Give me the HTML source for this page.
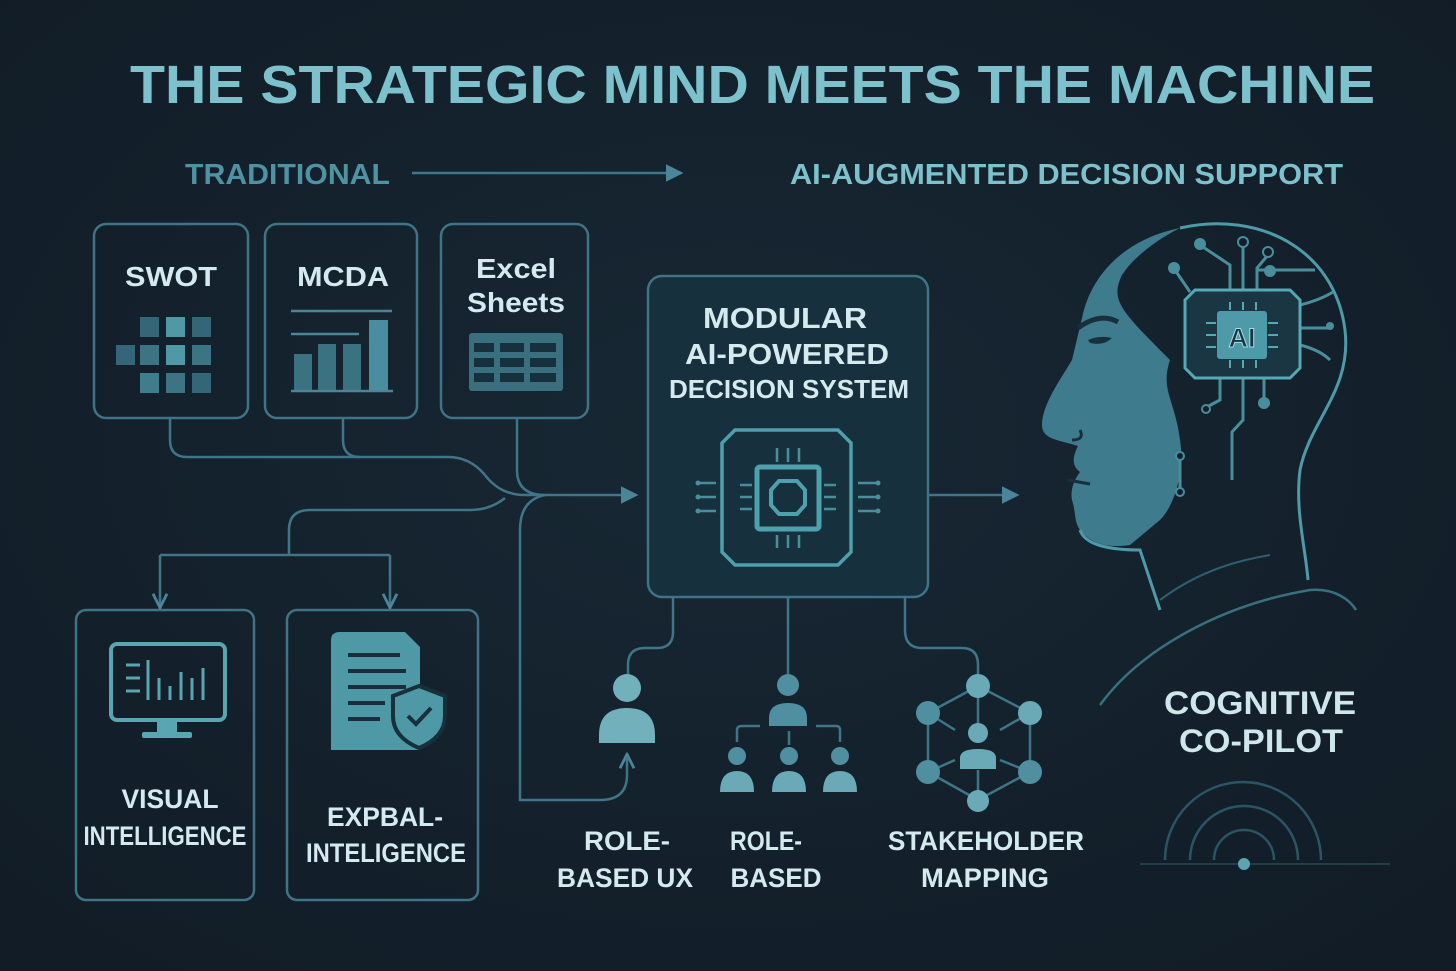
<!DOCTYPE html>
<html><head><meta charset="utf-8"><style>
html,body{margin:0;padding:0;background:#13202b;}
svg{display:block}
text{font-family:"Liberation Sans",sans-serif;font-weight:bold;}
</style></head><body>
<svg width="1456" height="971" viewBox="0 0 1456 971" xmlns="http://www.w3.org/2000/svg">
<defs>
<radialGradient id="bg" cx="0.5" cy="0.45" r="0.7"><stop offset="0" stop-color="#172834"/><stop offset="1" stop-color="#111c26"/></radialGradient>
<marker id="ar" viewBox="0 0 10 10" refX="8" refY="5" markerWidth="7" markerHeight="7" orient="auto"><path d="M0,0 L10,5 L0,10 z" fill="#4a8697"/></marker>
<marker id="ar2" viewBox="0 0 10 10" refX="8" refY="5" markerWidth="7" markerHeight="7" orient="auto"><path d="M1,1 L9,5 L1,9" fill="none" stroke="#4a8697" stroke-width="1.6"/></marker>
</defs>
<rect width="1456" height="971" fill="url(#bg)"/>

<!-- Titles -->
<text x="130" y="103" font-size="54" fill="#7cc1cc" textLength="1245" lengthAdjust="spacingAndGlyphs">THE STRATEGIC MIND MEETS THE MACHINE</text>
<text x="185" y="184" font-size="29" fill="#4f93a3" textLength="205" lengthAdjust="spacingAndGlyphs">TRADITIONAL</text>
<line x1="412" y1="173" x2="680" y2="173" stroke="#3f7788" stroke-width="2.5" marker-end="url(#ar)"/>
<text x="790" y="184" font-size="29" fill="#7cc1cc" textLength="553" lengthAdjust="spacingAndGlyphs">AI-AUGMENTED DECISION SUPPORT</text>

<g fill="none" stroke="#3f7385" stroke-width="2.5">
<rect x="94" y="224" width="154" height="194" rx="12"/>
<rect x="265" y="224" width="152" height="194" rx="12"/>
<rect x="441" y="224" width="147" height="194" rx="12"/>
<rect x="648" y="276" width="280" height="321" rx="14" fill="#17303d"/>
<rect x="76" y="610" width="178" height="290" rx="10"/>
<rect x="287" y="610" width="191" height="290" rx="10"/>
</g>

<!-- top box labels -->
<g fill="#d4eaee" font-size="28" text-anchor="middle">
<text x="171" y="286" textLength="92" lengthAdjust="spacingAndGlyphs">SWOT</text>
<text x="343" y="286" textLength="92" lengthAdjust="spacingAndGlyphs">MCDA</text>
<text x="516" y="278" font-weight="normal" style="font-weight:600" textLength="80" lengthAdjust="spacingAndGlyphs">Excel</text>
<text x="516" y="312" textLength="98" lengthAdjust="spacingAndGlyphs">Sheets</text>
</g>
<!-- SWOT grid -->
<g>
<rect x="140" y="317" width="19" height="20" fill="#346678"/><rect x="166" y="317" width="19" height="20" fill="#4f98a6"/><rect x="192" y="317" width="19" height="20" fill="#346678"/>
<rect x="116" y="345" width="19" height="20" fill="#346678"/><rect x="140" y="345" width="19" height="20" fill="#3c7484"/><rect x="166" y="345" width="19" height="20" fill="#4f98a6"/><rect x="192" y="345" width="19" height="20" fill="#3c7484"/>
<rect x="140" y="373" width="19" height="20" fill="#3f7c8c"/><rect x="166" y="373" width="19" height="20" fill="#3c7484"/><rect x="192" y="373" width="19" height="20" fill="#346678"/>
</g>
<!-- MCDA chart -->
<g stroke="#4a8697" stroke-width="2.5"><line x1="291" y1="311" x2="392" y2="311"/><line x1="291" y1="334" x2="359" y2="334"/><line x1="291" y1="391" x2="393" y2="391"/></g>
<rect x="294" y="354" width="18" height="36" fill="#3a7282"/><rect x="318" y="344" width="18" height="46" fill="#3a7282"/><rect x="343" y="344" width="18" height="46" fill="#3a7282"/><rect x="369" y="320" width="19" height="70" fill="#4a8d9c"/>
<!-- excel grid -->
<rect x="469" y="333" width="94" height="58" rx="3" fill="#3a6f80"/>
<g fill="#16303c">
<rect x="474" y="343" width="20" height="9"/><rect x="500" y="343" width="24" height="9"/><rect x="530" y="343" width="26" height="9"/>
<rect x="474" y="358" width="20" height="9"/><rect x="500" y="358" width="24" height="9"/><rect x="530" y="358" width="26" height="9"/>
<rect x="474" y="373" width="20" height="9"/><rect x="500" y="373" width="24" height="9"/><rect x="530" y="373" width="26" height="9"/>
</g>

<!-- connectors -->
<g fill="none" stroke="#3f7587" stroke-width="2.5">
<path d="M170,418 V440 Q170,457 187,457 H448 Q470,457 485,475 Q500,495 525,495 H635" marker-end="url(#ar)"/>
<path d="M343,418 V440 Q343,457 360,457"/>
<path d="M517,418 V470 Q517,495 545,495"/>
<path d="M505,498 Q490,510 470,510 H310 Q289,510 289,530 V555"/>
<path d="M160,555 H390"/>
<path d="M160,555 Q160,555 160,570 V606" marker-end="url(#ar2)"/>
<path d="M390,555 V606" marker-end="url(#ar2)"/>
<path d="M545,495 Q520,500 520,530 V800 H600 Q627,800 627,775 V756" marker-end="url(#ar2)"/>
<path d="M928,495 H1016" marker-end="url(#ar)"/>
<path d="M673,597 V632 Q673,648 657,648 H645 Q628,648 628,665 V674"/>
<path d="M788,597 V674"/>
<path d="M905,597 V630 Q905,648 922,648 H962 Q978,648 978,665 V674"/>
</g>

<!-- middle box -->
<g fill="#d4eaee" font-size="29" text-anchor="middle">
<text x="785" y="328" textLength="164" lengthAdjust="spacingAndGlyphs">MODULAR</text>
<text x="787" y="364" textLength="204" lengthAdjust="spacingAndGlyphs">AI-POWERED</text>
<text x="789" y="398" font-size="26" textLength="240" lengthAdjust="spacingAndGlyphs">DECISION SYSTEM</text>
</g>
<g fill="none" stroke="#4fa0ad" stroke-width="3">
<path d="M735,430 H838 L851,443 V552 L838,565 H735 L722,552 V443 Z" stroke-width="3.5"/>
<rect x="757" y="467" width="62" height="62" rx="3" stroke-width="5"/>
<path d="M779,481 H797 L805,490 V505 L797,514 H779 L771,505 V490 Z" stroke-width="4"/>
</g>
<g stroke="#4a8e9c" stroke-width="2.5">
<line x1="777" y1="448" x2="777" y2="462"/><line x1="788" y1="448" x2="788" y2="462"/><line x1="799" y1="448" x2="799" y2="462"/>
<line x1="777" y1="535" x2="777" y2="548"/><line x1="788" y1="535" x2="788" y2="548"/><line x1="799" y1="535" x2="799" y2="548"/>
<line x1="740" y1="485" x2="752" y2="485"/><line x1="740" y1="497" x2="752" y2="497"/><line x1="740" y1="509" x2="752" y2="509"/>
<line x1="824" y1="485" x2="836" y2="485"/><line x1="824" y1="497" x2="836" y2="497"/><line x1="824" y1="509" x2="836" y2="509"/>
<line x1="698" y1="483" x2="716" y2="483"/><line x1="698" y1="497" x2="716" y2="497"/><line x1="698" y1="511" x2="716" y2="511"/>
<line x1="858" y1="483" x2="876" y2="483"/><line x1="858" y1="497" x2="876" y2="497"/><line x1="858" y1="511" x2="876" y2="511"/>
</g>
<g fill="#4a8e9c"><circle cx="698" cy="483" r="2.5"/><circle cx="698" cy="497" r="2.5"/><circle cx="698" cy="511" r="2.5"/><circle cx="878" cy="483" r="2.5"/><circle cx="878" cy="497" r="2.5"/><circle cx="878" cy="511" r="2.5"/></g>

<!-- monitor icon -->
<rect x="111" y="644" width="114" height="76" rx="6" fill="none" stroke="#5aa5b2" stroke-width="4"/>
<rect x="157" y="722" width="20" height="10" fill="#5aa5b2"/><rect x="142" y="732" width="50" height="6" rx="2" fill="#5aa5b2"/>
<g stroke="#5aa5b2" stroke-width="3"><line x1="126" y1="665" x2="140" y2="665"/><line x1="126" y1="678" x2="140" y2="678"/><line x1="126" y1="691" x2="140" y2="691"/>
<line x1="148" y1="660" x2="148" y2="700"/><line x1="159" y1="678" x2="159" y2="700"/><line x1="170" y1="686" x2="170" y2="700"/><line x1="181" y1="672" x2="181" y2="700"/><line x1="192" y1="678" x2="192" y2="700"/><line x1="203" y1="668" x2="203" y2="700"/></g>
<!-- document icon -->
<path d="M340,632 H405 L420,647 V750 H331 V640 Q331,632 340,632 Z" fill="#4f98a6"/>
<g stroke="#17303c" stroke-width="4"><line x1="348" y1="655" x2="400" y2="655"/><line x1="348" y1="671" x2="406" y2="671"/><line x1="348" y1="687" x2="406" y2="687"/><line x1="348" y1="703" x2="385" y2="703"/><line x1="348" y1="719" x2="380" y2="719"/></g>
<path d="M419,686 L445,696 V716 Q445,737 419,748 Q393,737 393,716 V696 Z" fill="#4f98a6" stroke="#17303c" stroke-width="4"/>
<path d="M408,716 L416,724 L431,708" fill="none" stroke="#17303c" stroke-width="4"/>
<g fill="#d4eaee" font-size="27" text-anchor="middle">
<text x="170" y="808" textLength="97" lengthAdjust="spacingAndGlyphs">VISUAL</text>
<text x="165" y="845" textLength="163" lengthAdjust="spacingAndGlyphs">INTELLIGENCE</text>
<text x="385" y="826" textLength="116" lengthAdjust="spacingAndGlyphs">EXPBAL-</text>
<text x="386" y="862" textLength="160" lengthAdjust="spacingAndGlyphs">INTELIGENCE</text>
</g>

<!-- bottom icons -->
<circle cx="627" cy="688" r="14" fill="#72b1bc"/>
<path d="M599,743 V735 Q599,708 627,708 Q655,708 655,735 V743 Z" fill="#72b1bc"/>
<g fill="#4f8fa0">
<circle cx="788" cy="685" r="11"/><path d="M769,726 V718 Q769,703 788,703 Q807,703 807,718 V726 Z"/>
<circle cx="737" cy="756" r="9"/><circle cx="789" cy="756" r="9"/><circle cx="840" cy="756" r="9"/>
</g>
<g fill="#6aaab6">
<path d="M720,792 Q720,771 737,771 Q754,771 754,792 Z"/><path d="M772,792 Q772,771 789,771 Q806,771 806,792 Z"/><path d="M823,792 Q823,771 840,771 Q857,771 857,792 Z"/>
</g>
<g fill="none" stroke="#3f7587" stroke-width="2.5"><path d="M737,742 V730 Q737,726 742,726 H760"/><path d="M816,726 H836 Q840,726 840,730 V742"/><line x1="789" y1="731" x2="789" y2="745"/></g>
<g stroke="#3f7587" stroke-width="2.5">
<line x1="978" y1="686" x2="928" y2="713"/><line x1="978" y1="686" x2="1030" y2="713"/><line x1="978" y1="686" x2="978" y2="733"/>
<line x1="928" y1="713" x2="928" y2="772"/><line x1="1030" y1="713" x2="1030" y2="772"/>
<line x1="928" y1="772" x2="978" y2="800"/><line x1="1030" y1="772" x2="978" y2="800"/>
<line x1="928" y1="713" x2="955" y2="730"/><line x1="1030" y1="713" x2="1000" y2="730"/>
<line x1="928" y1="772" x2="955" y2="760"/><line x1="1030" y1="772" x2="1000" y2="760"/><line x1="978" y1="770" x2="978" y2="800"/>
</g>
<g fill="#6aaab6"><circle cx="978" cy="686" r="12"/><circle cx="1030" cy="713" r="12"/><circle cx="978" cy="733" r="10"/><circle cx="978" cy="801" r="11"/>
<path d="M960,769 V758 Q960,749 978,749 Q996,749 996,758 V769 Z"/></g>
<g fill="#4f8fa0"><circle cx="928" cy="713" r="12"/><circle cx="928" cy="772" r="12"/><circle cx="1030" cy="772" r="12"/></g>

<g fill="#d4eaee" font-size="27" text-anchor="middle">
<text x="627" y="850" textLength="86" lengthAdjust="spacingAndGlyphs">ROLE-</text>
<text x="625" y="887" textLength="136" lengthAdjust="spacingAndGlyphs">BASED UX</text>
<text x="766" y="850" textLength="72" lengthAdjust="spacingAndGlyphs">ROLE-</text>
<text x="776" y="887" textLength="91" lengthAdjust="spacingAndGlyphs">BASED</text>
<text x="986" y="850" textLength="196" lengthAdjust="spacingAndGlyphs">STAKEHOLDER</text>
<text x="985" y="887" textLength="128" lengthAdjust="spacingAndGlyphs">MAPPING</text>
</g>

<!-- head -->
<path d="M1180,228 C1130,238 1092,270 1082,318 L1072,360 C1060,380 1042,405 1042,425 C1042,440 1060,440 1078,446 C1072,458 1072,466 1080,472 C1074,480 1070,490 1072,500 C1076,512 1074,522 1080,530 C1092,545 1110,548 1130,545 L1160,520 C1175,505 1185,470 1180,440 C1175,400 1160,390 1170,360 C1120,310 1110,300 1122,275 C1135,255 1160,238 1180,228 Z" fill="#3e7b8c"/>
<path d="M1180,228 C1260,210 1335,250 1345,330 C1352,390 1310,420 1300,470 C1295,510 1305,545 1308,580" fill="none" stroke="#4e9aa8" stroke-width="3"/>
<path d="M1080,530 C1085,545 1110,550 1140,550 L1160,610" fill="none" stroke="#4e9aa8" stroke-width="3"/>
<path d="M1100,705 C1140,650 1220,605 1310,590 C1335,588 1350,600 1356,610" fill="none" stroke="#3a6f80" stroke-width="2.5"/>
<path d="M1160,600 C1200,570 1240,560 1270,555" fill="none" stroke="#2f5e6e" stroke-width="2"/>
<path d="M1078,328 Q1100,312 1118,322" fill="none" stroke="#17303c" stroke-width="5"/>
<path d="M1088,340 Q1100,335 1112,338 Q1104,346 1090,343 Z" fill="#17303c"/>
<path d="M1072,440 Q1085,440 1080,430" fill="none" stroke="#17303c" stroke-width="3"/>
<path d="M1068,480 L1090,484" stroke="#17303c" stroke-width="3"/>
<!-- circuits -->
<g fill="none" stroke="#4a8e9c" stroke-width="3">
<path d="M1230,290 V265 L1200,245"/><path d="M1243,290 V240"/><path d="M1257,290 V268 L1268,255"/><path d="M1257,270 H1315"/>
<path d="M1190,292 L1175,270"/><path d="M1300,305 Q1320,300 1333,292"/><path d="M1300,328 H1330"/><path d="M1300,345 Q1320,350 1330,360"/>
<path d="M1220,378 V400 L1205,408"/><path d="M1243,378 V420 L1232,432 V480"/><path d="M1264,378 V400"/>
<line x1="1180" y1="458" x2="1180" y2="492"/>
</g>
<g fill="#4a8e9c"><circle cx="1200" cy="244" r="6"/><circle cx="1174" cy="268" r="6"/><circle cx="1270" cy="271" r="6"/><circle cx="1264" cy="403" r="6"/><circle cx="1330" cy="326" r="4"/></g>
<g fill="#13202b" stroke="#4a8e9c" stroke-width="2"><circle cx="1243" cy="242" r="5"/><circle cx="1268" cy="252" r="5"/><circle cx="1206" cy="409" r="4"/><circle cx="1180" cy="456" r="4"/><circle cx="1180" cy="492" r="4"/></g>
<path d="M1195,290 H1290 L1300,300 V368 L1290,378 H1195 L1185,368 V300 Z" fill="#1a3642" stroke="#55a8b4" stroke-width="3"/>
<rect x="1217" y="311" width="50" height="48" rx="3" fill="#4f9aa8"/>
<g stroke="#55a8b4" stroke-width="2"><line x1="1230" y1="302" x2="1230" y2="310"/><line x1="1243" y1="302" x2="1243" y2="310"/><line x1="1256" y1="302" x2="1256" y2="310"/><line x1="1230" y1="360" x2="1230" y2="368"/><line x1="1243" y1="360" x2="1243" y2="368"/><line x1="1256" y1="360" x2="1256" y2="368"/>
<line x1="1206" y1="323" x2="1216" y2="323"/><line x1="1206" y1="335" x2="1216" y2="335"/><line x1="1206" y1="347" x2="1216" y2="347"/><line x1="1268" y1="323" x2="1278" y2="323"/><line x1="1268" y1="335" x2="1278" y2="335"/><line x1="1268" y1="347" x2="1278" y2="347"/></g>
<text x="1242" y="347" font-size="27" fill="#163540" text-anchor="middle" stroke="#a5dbe2" stroke-width="1">AI</text>

<g fill="#cfe6ea" font-size="32" text-anchor="middle">
<text x="1260" y="714" textLength="192" lengthAdjust="spacingAndGlyphs">COGNITIVE</text>
<text x="1261" y="752" textLength="164" lengthAdjust="spacingAndGlyphs">CO-PILOT</text>
</g>
<g fill="none" stroke="#2a5565" stroke-width="2.5">
<path d="M1165,860 A78,78 0 0 1 1321,860"/><path d="M1190,860 A54,54 0 0 1 1298,860"/><path d="M1214,860 A30,30 0 0 1 1274,860"/>
</g>
<line x1="1140" y1="864" x2="1390" y2="864" stroke="#244a58" stroke-width="1.5"/>
<circle cx="1244" cy="864" r="6" fill="#5aa5b2"/>
</svg>
</body></html>
